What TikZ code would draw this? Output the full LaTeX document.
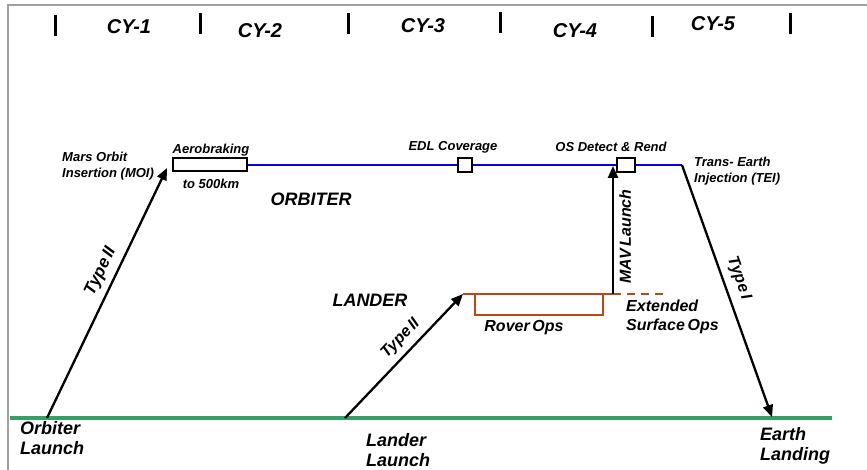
\documentclass[tikz,border=0pt]{standalone}
\usepackage{fontspec}
\setmainfont{Liberation Sans}
\usepackage{tikz}
\usetikzlibrary{arrows.meta}
\definecolor{orbblue}{RGB}{0,0,235}
\definecolor{landbrown}{RGB}{184,72,20}
\definecolor{earthgreen}{RGB}{56,158,104}
\definecolor{framegray}{RGB}{160,160,160}

\begin{document}
\begin{tikzpicture}[x=1pt, y=-1pt, font=\bfseries\itshape,
    every node/.style={inner sep=0pt},
    small/.style={font=\bfseries\itshape\fontsize{13}{16}\selectfont},
    big/.style={font=\bfseries\itshape\fontsize{16}{19}\selectfont},
    launch/.style={font=\bfseries\itshape\fontsize{18}{20}\selectfont},
    huge/.style={font=\bfseries\itshape\fontsize{18}{21}\selectfont},
    year/.style={font=\bfseries\itshape\fontsize{20}{22}\selectfont},
    transfer/.style={line width=2.3pt, -{Triangle[length=12pt,width=10pt]}},
    opsbox/.style={draw, line width=2pt, fill=white, minimum height=13pt}]
  \useasboundingbox (0,0) rectangle (867,470);

  % frame
  \draw[framegray, line width=2pt] (8,470) -- (8,5) -- (867,5);

  % contract years
  \foreach \x/\yt in {55/15,200/13,348/13,500/12,652/16,790/13}
    \draw[line width=3pt] (\x,\yt) -- (\x,\yt+21);
  \node[year] (cy1) at (129,27) {CY-1};
  \node[year] (cy2) at (260,31) {CY-2};
  \node[year] (cy3) at (423,26) {CY-3};
  \node[year] (cy4) at (575,31) {CY-4};
  \node[year] (cy5) at (713,24) {CY-5};

  % earth
  \coordinate (olaunch) at (47,418);
  \coordinate (llaunch) at (345,418);
  \coordinate (elanding) at (772,417);
  \draw[earthgreen, line width=3.5pt] (10,418) -- (832,418);

  % orbiter
  \node[opsbox, minimum width=74pt] (aero) at (210,165) {};
  \node[opsbox, minimum width=14pt, minimum height=14pt] (edl) at (465,165) {};
  \node[opsbox, minimum width=18pt, minimum height=14pt] (rend) at (626,165) {};
  \coordinate (moi) at (167,168);
  \coordinate (tei) at (682,165);
  \draw[orbblue, line width=2.8pt] (aero.east) -- (edl.west) (edl.east) -- (rend.west)
    (rend.east) -- (tei);
  \draw[transfer] (olaunch) -- (moi)
    node[big, font=\bfseries\itshape\fontsize{17}{19}\selectfont, pos=.56, sloped, above=6pt] {Type\,II};
  \draw[transfer] (tei) -- (elanding)
    node[big, pos=.47, sloped, above=7pt] {Type\,I};

  \node[small, anchor=west, align=left] (moitxt) at (62,166) {Mars Orbit\\Insertion (MOI)};
  \node[small] (aerotxt) at (211,150) {Aerobraking};
  \node[small] (kmtxt) at (211,184) {to 500km};
  \node[huge] (orbiter) at (311,199) {ORBITER};
  \node[small] (edltxt) at (453,147) {EDL Coverage};
  \node[small] (rendtxt) at (611,147) {OS Detect \& Rend};
  \node[small, anchor=west, align=left] (teitxt) at (694,171) {Trans- Earth\\Injection (TEI)};

  % lander
  \coordinate (arrival) at (463,294);
  \coordinate (mav) at (613,294);
  \coordinate (extend) at (663,294);
  \draw[landbrown, line width=2.5pt] (475,294) rectangle (603,315);
  \draw[landbrown, line width=2.5pt] (arrival) -- (mav);
  \draw[landbrown, line width=2.5pt, dash pattern=on 8pt off 6pt] (mav) -- (extend);
  \draw[transfer] (llaunch) -- (arrival)
    node[big, pos=.56, sloped, above=6pt] {Type\,II};
  \draw[transfer] (mav) -- (613,166)
    node[big, pos=.45, sloped, below=5pt] {MAV\,Launch};

  \node[huge] (lander) at (370,300) {LANDER};
  \node[big] (rovertxt) at (524,328) {Rover\,Ops};
  \node[big, anchor=west, align=left] (exttxt) at (626,317) {Extended\\Surface\,Ops};

  % launch and landing
  \node[launch, anchor=west, align=left] (olaunchtxt) at (20,438) {Orbiter\\Launch};
  \node[launch, anchor=west, align=left] (llaunchtxt) at (366,450) {Lander\\Launch};
  \node[launch, anchor=west, align=left] (elandtxt) at (760,446) {Earth\\Landing};
\end{tikzpicture}
\end{document}
